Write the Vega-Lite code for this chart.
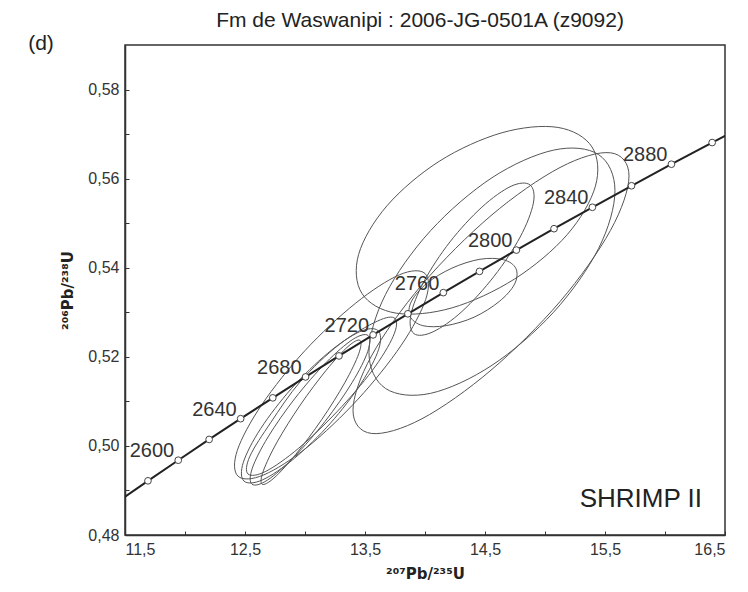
{
  "$schema": "https://vega.github.io/schema/vega-lite/v6.json",
  "width": 600,
  "height": 490,
  "autosize": {"type": "none"},
  "padding": {"left": 125, "top": 45, "right": 23, "bottom": 57},
  "background": "white",
  "title": {"text": "Fm de Waswanipi : 2006-JG-0501A (z9092)", "fontSize": 21, "fontWeight": "normal", "font": "Liberation Sans", "color": "#222", "anchor": "middle", "offset": 2, "dx": -5},
  "config": {
    "view": {"stroke": "#333", "strokeWidth": 1.5},
    "axis": {"grid": false, "domainColor": "#333", "domainWidth": 1.5, "tickColor": "#333", "tickSize": -4, "labelFont": "Liberation Sans", "labelFontSize": 16, "labelColor": "#333", "titleFont": "DejaVu Sans", "titleFontSize": 15, "titleFontWeight": "bold", "titleColor": "#222"}
  },
  "datasets": {
    "ellipses": [
      {"e":"L1","k":0,"x":14.0,"y":0.5387},{"e":"L1","k":1,"x":14.006,"y":0.5329},{"e":"L1","k":2,"x":13.802,"y":0.5226},{"e":"L1","k":3,"x":13.442,"y":0.5105},{"e":"L1","k":4,"x":13.023,"y":0.4998},{"e":"L1","k":5,"x":12.657,"y":0.4935},{"e":"L1","k":6,"x":12.442,"y":0.4932},{"e":"L1","k":7,"x":12.436,"y":0.499},{"e":"L1","k":8,"x":12.641,"y":0.5093},{"e":"L1","k":9,"x":13.0,"y":0.5214},{"e":"L1","k":10,"x":13.42,"y":0.532},{"e":"L1","k":11,"x":13.786,"y":0.5384},
      {"e":"L2","k":0,"x":13.608,"y":0.5259},{"e":"L2","k":1,"x":13.614,"y":0.5217},{"e":"L2","k":2,"x":13.469,"y":0.5141},{"e":"L2","k":3,"x":13.212,"y":0.5051},{"e":"L2","k":4,"x":12.911,"y":0.4972},{"e":"L2","k":5,"x":12.648,"y":0.4924},{"e":"L2","k":6,"x":12.492,"y":0.4921},{"e":"L2","k":7,"x":12.486,"y":0.4963},{"e":"L2","k":8,"x":12.631,"y":0.5039},{"e":"L2","k":9,"x":12.888,"y":0.5129},{"e":"L2","k":10,"x":13.189,"y":0.5208},{"e":"L2","k":11,"x":13.453,"y":0.5256},
      {"e":"L3","k":0,"x":13.525,"y":0.5248},{"e":"L3","k":1,"x":13.523,"y":0.5212},{"e":"L3","k":2,"x":13.392,"y":0.5142},{"e":"L3","k":3,"x":13.167,"y":0.5055},{"e":"L3","k":4,"x":12.908,"y":0.4975},{"e":"L3","k":5,"x":12.686,"y":0.4923},{"e":"L3","k":6,"x":12.558,"y":0.4914},{"e":"L3","k":7,"x":12.561,"y":0.495},{"e":"L3","k":8,"x":12.692,"y":0.502},{"e":"L3","k":9,"x":12.917,"y":0.5107},{"e":"L3","k":10,"x":13.175,"y":0.5187},{"e":"L3","k":11,"x":13.398,"y":0.5239},
      {"e":"L4","k":0,"x":13.458,"y":0.5237},{"e":"L4","k":1,"x":13.448,"y":0.5207},{"e":"L4","k":2,"x":13.332,"y":0.5142},{"e":"L4","k":3,"x":13.139,"y":0.5059},{"e":"L4","k":4,"x":12.923,"y":0.4981},{"e":"L4","k":5,"x":12.742,"y":0.4928},{"e":"L4","k":6,"x":12.642,"y":0.4914},{"e":"L4","k":7,"x":12.653,"y":0.4944},{"e":"L4","k":8,"x":12.768,"y":0.5009},{"e":"L4","k":9,"x":12.961,"y":0.5092},{"e":"L4","k":10,"x":13.177,"y":0.517},{"e":"L4","k":11,"x":13.358,"y":0.5223},
      {"e":"L5","k":0,"x":13.75,"y":0.5286},{"e":"L5","k":1,"x":13.735,"y":0.5246},{"e":"L5","k":2,"x":13.56,"y":0.5169},{"e":"L5","k":3,"x":13.271,"y":0.5078},{"e":"L5","k":4,"x":12.948,"y":0.4995},{"e":"L5","k":5,"x":12.674,"y":0.4943},{"e":"L5","k":6,"x":12.525,"y":0.4937},{"e":"L5","k":7,"x":12.541,"y":0.4977},{"e":"L5","k":8,"x":12.716,"y":0.5053},{"e":"L5","k":9,"x":12.963,"y":0.5145},{"e":"L5","k":10,"x":13.287,"y":0.5228},{"e":"L5","k":11,"x":13.602,"y":0.528},
      {"e":"A","k":0,"x":15.392,"y":0.5671},{"e":"A","k":1,"x":15.42,"y":0.5583},{"e":"A","k":2,"x":15.184,"y":0.5474},{"e":"A","k":3,"x":14.748,"y":0.5375},{"e":"A","k":4,"x":14.226,"y":0.531},{"e":"A","k":5,"x":13.76,"y":0.5298},{"e":"A","k":6,"x":13.475,"y":0.5342},{"e":"A","k":7,"x":13.447,"y":0.543},{"e":"A","k":8,"x":13.683,"y":0.5539},{"e":"A","k":9,"x":14.119,"y":0.5639},{"e":"A","k":10,"x":14.641,"y":0.5703},{"e":"A","k":11,"x":15.107,"y":0.5715},
      {"e":"B","k":0,"x":15.7,"y":0.5606},{"e":"B","k":1,"x":15.546,"y":0.5484},{"e":"B","k":2,"x":15.125,"y":0.5324},{"e":"B","k":3,"x":14.55,"y":0.517},{"e":"B","k":4,"x":13.975,"y":0.5061},{"e":"B","k":5,"x":13.554,"y":0.5028},{"e":"B","k":6,"x":13.4,"y":0.508},{"e":"B","k":7,"x":13.554,"y":0.5202},{"e":"B","k":8,"x":13.975,"y":0.5362},{"e":"B","k":9,"x":14.55,"y":0.5517},{"e":"B","k":10,"x":15.125,"y":0.5625},{"e":"B","k":11,"x":15.546,"y":0.5658},
      {"e":"C","k":0,"x":15.583,"y":0.5573},{"e":"C","k":1,"x":15.446,"y":0.5443},{"e":"C","k":2,"x":15.071,"y":0.53},{"e":"C","k":3,"x":14.558,"y":0.5181},{"e":"C","k":4,"x":14.046,"y":0.5118},{"e":"C","k":5,"x":13.671,"y":0.5129},{"e":"C","k":6,"x":13.533,"y":0.521},{"e":"C","k":7,"x":13.671,"y":0.534},{"e":"C","k":8,"x":14.046,"y":0.5483},{"e":"C","k":9,"x":14.558,"y":0.5602},{"e":"C","k":10,"x":15.071,"y":0.5664},{"e":"C","k":11,"x":15.446,"y":0.5654},
      {"e":"D","k":0,"x":14.875,"y":0.5586},{"e":"D","k":1,"x":14.903,"y":0.5545},{"e":"D","k":2,"x":14.793,"y":0.5469},{"e":"D","k":3,"x":14.576,"y":0.5381},{"e":"D","k":4,"x":14.309,"y":0.5302},{"e":"D","k":5,"x":14.066,"y":0.5256},{"e":"D","k":6,"x":13.908,"y":0.5252},{"e":"D","k":7,"x":13.882,"y":0.5294},{"e":"D","k":8,"x":13.991,"y":0.5369},{"e":"D","k":9,"x":14.208,"y":0.5458},{"e":"D","k":10,"x":14.474,"y":0.5536},{"e":"D","k":11,"x":14.718,"y":0.5583},
      {"e":"E","k":0,"x":14.758,"y":0.5398},{"e":"E","k":1,"x":14.746,"y":0.5363},{"e":"E","k":2,"x":14.618,"y":0.5324},{"e":"E","k":3,"x":14.409,"y":0.5289},{"e":"E","k":4,"x":14.176,"y":0.527},{"e":"E","k":5,"x":13.981,"y":0.527},{"e":"E","k":6,"x":13.875,"y":0.5291},{"e":"E","k":7,"x":13.888,"y":0.5325},{"e":"E","k":8,"x":14.016,"y":0.5365},{"e":"E","k":9,"x":14.224,"y":0.5399},{"e":"E","k":10,"x":14.458,"y":0.5419},{"e":"E","k":11,"x":14.653,"y":0.5418}
    ],
    "concordia": [
      {"t":2560,"x":11.4437,"y":0.48755,"dot":false,"lab":""},
      {"t":2580,"x":11.6913,"y":0.49216,"dot":true,"lab":""},
      {"t":2600,"x":11.9437,"y":0.49679,"dot":true,"lab":"2600"},
      {"t":2620,"x":12.2012,"y":0.50145,"dot":true,"lab":""},
      {"t":2640,"x":12.4638,"y":0.50611,"dot":true,"lab":"2640"},
      {"t":2660,"x":12.7316,"y":0.51079,"dot":true,"lab":""},
      {"t":2680,"x":13.0048,"y":0.51548,"dot":true,"lab":"2680"},
      {"t":2700,"x":13.2833,"y":0.5202,"dot":true,"lab":""},
      {"t":2720,"x":13.5675,"y":0.52492,"dot":true,"lab":"2720"},
      {"t":2740,"x":13.8572,"y":0.52966,"dot":true,"lab":""},
      {"t":2760,"x":14.1528,"y":0.53441,"dot":true,"lab":"2760"},
      {"t":2780,"x":14.4542,"y":0.53918,"dot":true,"lab":""},
      {"t":2800,"x":14.7616,"y":0.54396,"dot":true,"lab":"2800"},
      {"t":2820,"x":15.0752,"y":0.54876,"dot":true,"lab":""},
      {"t":2840,"x":15.3949,"y":0.55357,"dot":true,"lab":"2840"},
      {"t":2860,"x":15.7211,"y":0.5584,"dot":true,"lab":""},
      {"t":2880,"x":16.0537,"y":0.56324,"dot":true,"lab":"2880"},
      {"t":2900,"x":16.3929,"y":0.5681,"dot":true,"lab":""},
      {"t":2920,"x":16.7389,"y":0.57297,"dot":false,"lab":""}
    ],
    "notes": [
      {"txt":"SHRIMP II","x":16.308,"y":0.4862,"kind":"shrimp"},
      {"txt":"(d)","x":10.8,"y":0.5902,"kind":"panel"}
    ]
  },
  "layer": [
    {
      "data": {"name": "ellipses"},
      "mark": {"type": "line", "interpolate": "cardinal-closed", "stroke": "#555", "strokeWidth": 1, "clip": true},
      "encoding": {
        "x": {"field": "x", "type": "quantitative", "scale": {"domain": [11.5, 16.5], "nice": false, "zero": false},
          "axis": {"values": [11.5, 12, 12.5, 13, 13.5, 14, 14.5, 15, 15.5, 16, 16.5], "labelExpr": "(round(datum.value*10)%10==5) ? replace(format(datum.value,'.1f'),'.',',') : ''", "labelPadding": 10, "title": "²⁰⁷Pb/²³⁵U", "titlePadding": 9}},
        "y": {"field": "y", "type": "quantitative", "scale": {"domain": [0.48, 0.59], "nice": false, "zero": false},
          "axis": {"values": [0.48, 0.49, 0.5, 0.51, 0.52, 0.53, 0.54, 0.55, 0.56, 0.57, 0.58], "labelExpr": "(round(datum.value*100)%2==0) ? replace(format(datum.value,'.2f'),'.',',') : ''", "labelPadding": 10, "title": "²⁰⁶Pb/²³⁸U", "titlePadding": 12}},
        "detail": {"field": "e"},
        "order": {"field": "k", "type": "quantitative"}
      }
    },
    {
      "data": {"name": "concordia"},
      "mark": {"type": "line", "stroke": "#222", "strokeWidth": 2, "clip": true},
      "encoding": {
        "x": {"field": "x", "type": "quantitative"},
        "y": {"field": "y", "type": "quantitative"},
        "order": {"field": "t", "type": "quantitative"}
      }
    },
    {
      "data": {"name": "concordia"},
      "transform": [{"filter": "datum.dot"}],
      "mark": {"type": "point", "shape": "circle", "filled": true, "fill": "white", "stroke": "#444", "strokeWidth": 1, "size": 45, "opacity": 1},
      "encoding": {
        "x": {"field": "x", "type": "quantitative"},
        "y": {"field": "y", "type": "quantitative"}
      }
    },
    {
      "data": {"name": "concordia"},
      "transform": [{"filter": "datum.lab != ''"}],
      "mark": {"type": "text", "align": "right", "baseline": "alphabetic", "dx": -4, "dy": -3, "font": "Liberation Sans", "fontSize": 20, "fill": "#333"},
      "encoding": {
        "x": {"field": "x", "type": "quantitative"},
        "y": {"field": "y", "type": "quantitative"},
        "text": {"field": "lab"}
      }
    },
    {
      "data": {"name": "notes"},
      "transform": [{"filter": "datum.kind == 'shrimp'"}],
      "mark": {"type": "text", "align": "right", "baseline": "alphabetic", "font": "Liberation Sans", "fontSize": 26, "fill": "#222"},
      "encoding": {
        "x": {"field": "x", "type": "quantitative"},
        "y": {"field": "y", "type": "quantitative"},
        "text": {"field": "txt"}
      }
    },
    {
      "data": {"name": "notes"},
      "transform": [{"filter": "datum.kind == 'panel'"}],
      "mark": {"type": "text", "align": "center", "baseline": "middle", "font": "Liberation Sans", "fontSize": 21, "fill": "#222", "clip": false},
      "encoding": {
        "x": {"field": "x", "type": "quantitative"},
        "y": {"field": "y", "type": "quantitative"},
        "text": {"field": "txt"}
      }
    }
  ]
}
